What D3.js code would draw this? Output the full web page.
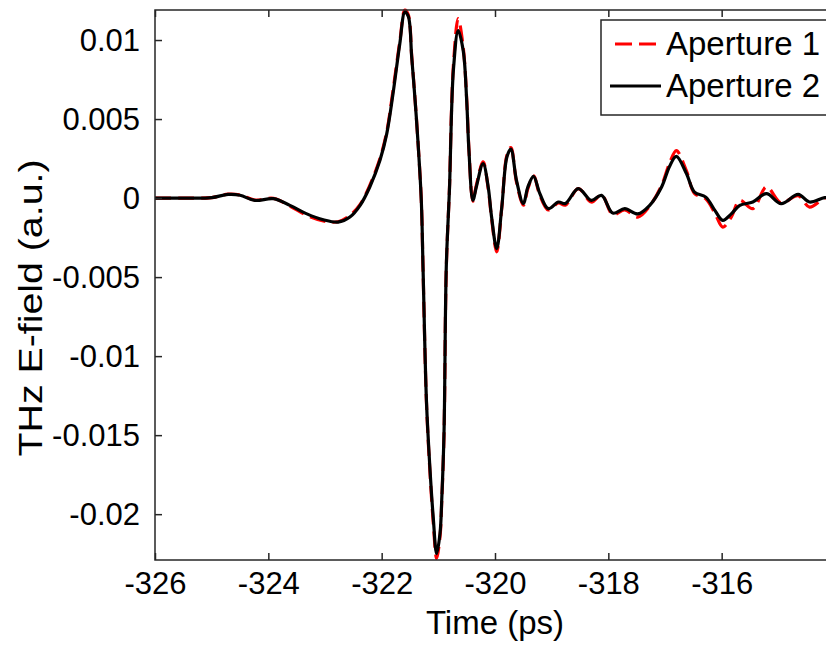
<!DOCTYPE html>
<html>
<head>
<meta charset="utf-8">
<script src="https://cdn.jsdelivr.net/npm/d3@7"></script>
<style>
  html, body { margin: 0; padding: 0; background: #fff; }
  svg { display: block; }
  text { font-family: "Liberation Sans", Arial, Helvetica, sans-serif; fill: #000; }
</style>
</head>
<body>
<svg id="chart" width="826" height="648"></svg>
<script>
// ---- data ----
const times = [-326.00, -325.50, -325.00, -324.71, -324.50, -324.24, -323.91, -323.62, -323.32, -323.03,
  -322.77, -322.56, -322.38, -322.21, -322.03, -321.91, -321.80, -321.68, -321.59, -321.53,
  -321.47, -321.41, -321.36, -321.30, -321.27, -321.21, -321.15, -321.09, -321.03, -320.97,
  -320.94, -320.90, -320.86, -320.80, -320.77, -320.73, -320.65, -320.56, -320.50, -320.46,
  -320.39, -320.33, -320.21, -320.12, -320.06, -319.97, -319.88, -319.79, -319.72, -319.62,
  -319.50, -319.42, -319.32, -319.21, -319.06, -318.88, -318.76, -318.53, -318.30, -318.12,
  -317.92, -317.71, -317.48, -317.27, -317.06, -316.92, -316.80, -316.62, -316.48, -316.28,
  -316.12, -315.98, -315.83, -315.68, -315.45, -315.21, -314.95, -314.65, -314.45, -314.18, -314.00];

const aperture2 = [0, 0, 0.00003, 0.00023, 0.00018, -0.00015, -0.00004, -0.00046, -0.0010, -0.00137,
  -0.00152, -0.0012, -0.00046, 0.0007, 0.00239, 0.00408, 0.0066, 0.00977, 0.01177, 0.0115,
  0.00892, 0.00618, 0.0036, -0.0002, -0.0044, -0.0128, -0.0170, -0.0202, -0.0225, -0.0212,
  -0.0191, -0.0149, -0.0044, 0.00093, 0.0051, 0.0083, 0.0106, 0.0093, 0.0062, 0.0030,
  -0.00015, 0.0007, 0.00218, 0.0007, -0.0012, -0.0032, -0.00057, 0.0026, 0.0031, 0.0011,
  -0.00035, 0.0007, 0.00137, 0.0003, -0.00067, -0.00025, -0.00035, 0.0006, -0.00015, 0.00017,
  -0.00095, -0.00067, -0.0010, -0.00046, 0.0007, 0.0020, 0.00264, 0.00154, 0.00038, 0.00006,
  -0.00078, -0.00141, -0.0010, -0.00046, -0.00025, 0.00028, -0.00035, 0.00023, -0.00025, 0.00003, 0.0];

const aperture1 = [0, 0, 0.00003, 0.00025, 0.00020, -0.00012, -0.00002, -0.00050, -0.0011, -0.00145,
  -0.00150, -0.0011, -0.00040, 0.0008, 0.00250, 0.00420, 0.0068, 0.0099, 0.0119, 0.0116,
  0.0090, 0.0062, 0.0036, -0.0002, -0.0045, -0.0129, -0.0172, -0.0205, -0.0228, -0.0214,
  -0.0192, -0.0150, -0.0045, 0.0010, 0.0053, 0.0086, 0.01135, 0.0095, 0.0063, 0.0031,
  -0.00020, 0.0008, 0.00230, 0.0006, -0.0013, -0.0034, -0.00060, 0.0027, 0.0032, 0.0010,
  -0.00045, 0.0006, 0.00140, 0.0002, -0.00075, -0.00030, -0.00045, 0.0006, -0.00025, 0.00020,
  -0.00105, -0.00075, -0.0012, -0.00050, 0.0008, 0.0022, 0.0030, 0.0017, 0.00030, -0.00005,
  -0.00095, -0.00184, -0.0012, -0.00015, -0.00067, 0.00070, -0.00030, 0.00015, -0.00057, 0.00000, 0.0];

const xTicks = [-326, -324, -322, -320, -318, -316, -314];
const xTickLabels = ["-326", "-324", "-322", "-320", "-318", "-316", ""];
const yTicks = [0.01, 0.005, 0, -0.005, -0.01, -0.015, -0.02];
const yTickLabels = ["0.01", "0.005", "0", "-0.005", "-0.01", "-0.015", "-0.02"];
const seriesNames = ["Aperture 1", "Aperture 2"];

// ---- layout ----
const svg = d3.select("#chart");
const pL = 155, pR = 835, pT = 10, pB = 560;

const x = d3.scaleLinear().domain([-326, -314]).range([pL, pR]);
const y = d3.scaleLinear().domain([-0.0229, 0.0119]).range([pB, pT]);

const lineFor = (vals) => d3.line()
  .x((d, i) => x(times[i]))
  .y(d => y(d))
  .curve(d3.curveCatmullRom.alpha(0.5))(vals);

const plot = svg.append("g");
plot.append("clipPath").attr("id", "clip")
  .append("rect").attr("x", pL).attr("y", pT - 2).attr("width", pR - pL).attr("height", pB - pT + 4);

const lines = plot.append("g").attr("clip-path", "url(#clip)");
lines.append("path").attr("d", lineFor(aperture1))
  .attr("fill", "none").attr("stroke", "#ff0000").attr("stroke-width", 3.2)
  .attr("stroke-dasharray", "16,7");
lines.append("path").attr("d", lineFor(aperture2))
  .attr("fill", "none").attr("stroke", "#000").attr("stroke-width", 3.2)
  .attr("stroke-linejoin", "round");

// ---- axes ----
const axisColor = "#262626";
const tickLen = 7;
const ax = svg.append("g");

const bottomAxis = d3.axisBottom(x).tickValues(xTicks).tickSize(-tickLen)
  .tickFormat((d, i) => xTickLabels[i]).tickPadding(0);
const gb = ax.append("g").attr("transform", `translate(0,${pB})`).call(bottomAxis);
gb.select(".domain").remove();
gb.selectAll(".tick line").attr("stroke", axisColor).attr("stroke-width", 1.5);
gb.selectAll(".tick text").attr("font-size", 31).attr("y", 0).attr("dy", 34)
  .attr("font-family", '"Liberation Sans", Arial, sans-serif').attr("fill", "#000");

const topAxis = d3.axisTop(x).tickValues(xTicks).tickSize(-tickLen).tickFormat("");
const gt = ax.append("g").attr("transform", `translate(0,${pT})`).call(topAxis);
gt.select(".domain").remove();
gt.selectAll(".tick line").attr("stroke", axisColor).attr("stroke-width", 1.5);

const leftAxis = d3.axisLeft(y).tickValues(yTicks).tickSize(-tickLen)
  .tickFormat((d, i) => yTickLabels[i]).tickPadding(0);
const gl = ax.append("g").attr("transform", `translate(${pL},0)`).call(leftAxis);
gl.select(".domain").remove();
gl.selectAll(".tick line").attr("stroke", axisColor).attr("stroke-width", 1.5);
gl.selectAll(".tick text").attr("font-size", 31).attr("x", -15).attr("dy", 10.8)
  .attr("font-family", '"Liberation Sans", Arial, sans-serif').attr("fill", "#000");

const rightAxis = d3.axisRight(y).tickValues(yTicks).tickSize(-tickLen).tickFormat("");
const gr = ax.append("g").attr("transform", `translate(${pR},0)`).call(rightAxis);
gr.select(".domain").remove();
gr.selectAll(".tick line").attr("stroke", axisColor).attr("stroke-width", 1.5);

ax.append("rect").attr("x", pL).attr("y", pT).attr("width", pR - pL).attr("height", pB - pT)
  .attr("fill", "none").attr("stroke", axisColor).attr("stroke-width", 1.5);

// axis titles
svg.append("text").attr("x", (pL + pR) / 2).attr("y", 634)
  .attr("text-anchor", "middle").attr("font-size", 33).text("Time (ps)");
svg.append("text").attr("transform", `translate(42,${308}) rotate(-90)`)
  .attr("text-anchor", "middle").attr("font-size", 34)
  .attr("textLength", 297).attr("lengthAdjust", "spacingAndGlyphs")
  .text("THz E-field (a.u.)");

// ---- legend ----
const lg = svg.append("g");
lg.append("rect").attr("x", 601).attr("y", 20).attr("width", 250).attr("height", 95)
  .attr("fill", "#fff").attr("stroke", axisColor).attr("stroke-width", 1.5);
lg.append("line").attr("x1", 615).attr("x2", 656).attr("y1", 44).attr("y2", 44)
  .attr("stroke", "#ff0000").attr("stroke-width", 3.2).attr("stroke-dasharray", "17,7");
lg.append("line").attr("x1", 610).attr("x2", 661).attr("y1", 86).attr("y2", 86)
  .attr("stroke", "#000").attr("stroke-width", 3.2);
lg.append("text").attr("x", 666).attr("y", 55).attr("font-size", 33).text(seriesNames[0]);
lg.append("text").attr("x", 666).attr("y", 97).attr("font-size", 33).text(seriesNames[1]);
</script>
</body>
</html>
